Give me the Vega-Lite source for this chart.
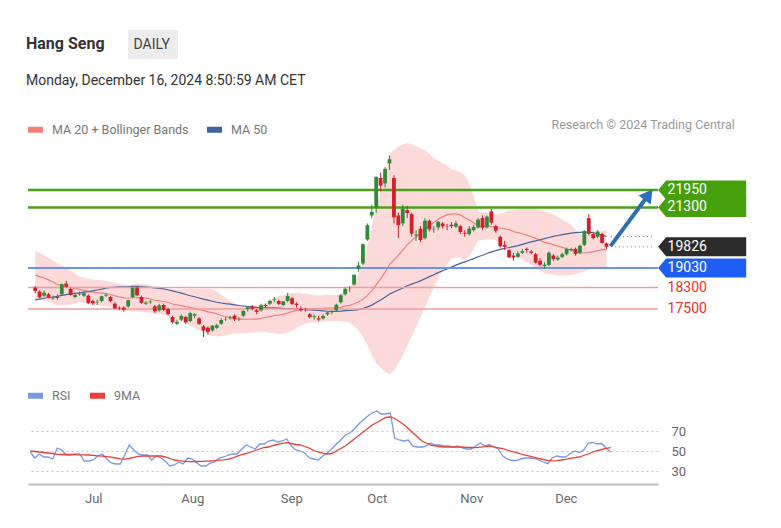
{
"$schema": "https://vega.github.io/schema/vega-lite/v6.json",
"padding": {"left": 25, "top": 30, "right": 5, "bottom": 5},
"background": "#ffffff",
"config": {"font": "Roboto", "view": {"stroke": null}},
"title": {"text": "Hang Seng", "subtitle": "Monday, December 16, 2024 8:50:59 AM CET", "anchor": "start", "frame": "group", "fontSize": 16, "fontWeight": "bold", "color": "#333333", "subtitleFontSize": 14, "subtitleColor": "#333333", "subtitlePadding": 22, "offset": 0, "dx": -2, "dy": 58},
"spacing": 9,
"resolve": {"scale": {"color": "independent", "x": "independent", "y": "independent"}, "legend": {"color": "independent"}},
"datasets": {
"k": [
{"i":0,"o":18300,"h":18350,"l":18100,"c":18176,"m20":18769,"bu":19683,"bl":17855,"m50":17842,"r":49,"rm":50},
{"i":1,"o":18150,"h":18200,"l":17900,"c":17937,"m20":18710,"bu":19590,"bl":17830,"m50":17868,"r":43,"rm":49.5},
{"i":2,"o":18000,"h":18200,"l":17950,"c":18112,"m20":18662,"bu":19512,"bl":17812,"m50":17902,"r":47,"rm":49},
{"i":3,"o":18050,"h":18100,"l":17900,"c":17942,"m20":18590,"bu":19414,"bl":17766,"m50":17930,"r":44,"rm":48.5},
{"i":4,"o":17900,"h":18000,"l":17850,"c":17936,"m20":18509,"bu":19309,"bl":17709,"m50":17950,"r":44,"rm":48},
{"i":5,"o":17950,"h":18050,"l":17850,"c":17915,"m20":18423,"bu":19207,"bl":17639,"m50":17974,"r":42,"rm":47.5},
{"i":6,"o":18050,"h":18450,"l":18000,"c":18430,"m20":18384,"bu":19124,"bl":17644,"m50":18008,"r":53,"rm":46.7},
{"i":7,"o":18450,"h":18550,"l":18300,"c":18335,"m20":18341,"bu":19031,"bl":17651,"m50":18040,"r":51,"rm":46.5},
{"i":8,"o":18250,"h":18300,"l":18000,"c":18028,"m20":18299,"bu":18929,"bl":17669,"m50":18064,"r":46,"rm":46.5},
{"i":9,"o":17950,"h":18100,"l":17900,"c":18027,"m20":18270,"bu":18830,"bl":17710,"m50":18082,"r":46,"rm":46.5},
{"i":10,"o":18050,"h":18150,"l":18000,"c":18072,"m20":18232,"bu":18712,"bl":17752,"m50":18102,"r":47,"rm":46.3},
{"i":11,"o":18000,"h":18150,"l":17950,"c":18089,"m20":18195,"bu":18665,"bl":17725,"m50":18129,"r":47,"rm":46.2},
{"i":12,"o":18000,"h":18050,"l":17700,"c":17716,"m20":18157,"bu":18627,"bl":17687,"m50":18151,"r":40,"rm":46.1},
{"i":13,"o":17800,"h":17850,"l":17650,"c":17718,"m20":18131,"bu":18601,"bl":17661,"m50":18181,"r":40,"rm":46},
{"i":14,"o":17750,"h":17850,"l":17650,"c":17769,"m20":18116,"bu":18586,"bl":17646,"m50":18211,"r":41,"rm":45.6},
{"i":15,"o":17800,"h":18000,"l":17750,"c":17978,"m20":18095,"bu":18575,"bl":17615,"m50":18243,"r":45,"rm":45.2},
{"i":16,"o":18000,"h":18100,"l":17950,"c":18028,"m20":18074,"bu":18554,"bl":17594,"m50":18279,"r":47,"rm":44.8},
{"i":17,"o":17950,"h":17980,"l":17750,"c":17799,"m20":18043,"bu":18523,"bl":17563,"m50":18305,"r":42,"rm":44.3},
{"i":18,"o":17700,"h":17750,"l":17500,"c":17524,"m20":17995,"bu":18485,"bl":17505,"m50":18319,"r":38,"rm":43.8},
{"i":19,"o":17550,"h":17600,"l":17450,"c":17523,"m20":17953,"bu":18443,"bl":17463,"m50":18325,"r":37,"rm":43},
{"i":20,"o":17550,"h":17600,"l":17400,"c":17471,"m20":17917,"bu":18407,"bl":17427,"m50":18329,"r":37,"rm":42.2},
{"i":21,"o":17600,"h":17850,"l":17550,"c":17832,"m20":17912,"bu":18402,"bl":17422,"m50":18332,"r":46,"rm":41.9},
{"i":22,"o":17950,"h":18320,"l":17900,"c":18293,"m20":17921,"bu":18431,"bl":17411,"m50":18343,"r":56,"rm":42.5},
{"i":23,"o":18300,"h":18350,"l":17980,"c":18015,"m20":17925,"bu":18441,"bl":17409,"m50":18348,"r":51,"rm":43.7},
{"i":24,"o":17950,"h":18000,"l":17700,"c":17727,"m20":17914,"bu":18434,"bl":17394,"m50":18339,"r":47,"rm":44.6},
{"i":25,"o":17700,"h":17800,"l":17650,"c":17739,"m20":17906,"bu":18432,"bl":17380,"m50":18324,"r":46,"rm":45},
{"i":26,"o":17750,"h":17850,"l":17700,"c":17778,"m20":17873,"bu":18383,"bl":17363,"m50":18308,"r":46,"rm":45},
{"i":27,"o":17600,"h":17650,"l":17350,"c":17417,"m20":17827,"bu":18327,"bl":17327,"m50":18287,"r":41,"rm":45},
{"i":28,"o":17450,"h":17700,"l":17400,"c":17635,"m20":17808,"bu":18304,"bl":17312,"m50":18273,"r":45,"rm":45},
{"i":29,"o":17650,"h":17700,"l":17420,"c":17469,"m20":17780,"bu":18270,"bl":17290,"m50":18252,"r":43,"rm":45},
{"i":30,"o":17500,"h":17550,"l":17250,"c":17311,"m20":17742,"bu":18232,"bl":17252,"m50":18219,"r":40,"rm":44},
{"i":31,"o":17200,"h":17250,"l":16950,"c":17005,"m20":17687,"bu":18227,"bl":17147,"m50":18177,"r":35,"rm":42.5},
{"i":32,"o":16950,"h":17100,"l":16900,"c":17021,"m20":17653,"bu":18233,"bl":17073,"m50":18136,"r":36,"rm":41},
{"i":33,"o":17100,"h":17300,"l":17050,"c":17238,"m20":17629,"bu":18229,"bl":17029,"m50":18093,"r":39,"rm":40.3},
{"i":34,"o":17200,"h":17250,"l":16950,"c":17002,"m20":17590,"bu":18240,"bl":16940,"m50":18042,"r":37,"rm":39.8},
{"i":35,"o":17050,"h":17400,"l":17000,"c":17344,"m20":17559,"bu":18247,"bl":16871,"m50":17996,"r":43,"rm":39.4},
{"i":36,"o":17250,"h":17350,"l":17150,"c":17304,"m20":17522,"bu":18242,"bl":16802,"m50":17958,"r":42,"rm":39.3},
{"i":37,"o":17150,"h":17200,"l":16900,"c":16945,"m20":17480,"bu":18250,"bl":16710,"m50":17913,"r":38,"rm":39.5},
{"i":38,"o":16850,"h":16900,"l":16450,"c":16698,"m20":17438,"bu":18258,"bl":16618,"m50":17869,"r":35,"rm":39.7},
{"i":39,"o":16800,"h":16850,"l":16550,"c":16647,"m20":17395,"bu":18255,"bl":16535,"m50":17830,"r":35,"rm":39.9},
{"i":40,"o":16700,"h":16900,"l":16650,"c":16877,"m20":17365,"bu":18237,"bl":16493,"m50":17791,"r":38,"rm":40},
{"i":41,"o":16800,"h":16950,"l":16750,"c":16891,"m20":17318,"bu":18168,"bl":16468,"m50":17752,"r":39,"rm":40.3},
{"i":42,"o":16950,"h":17150,"l":16900,"c":17090,"m20":17258,"bu":18038,"bl":16478,"m50":17725,"r":43,"rm":40.8},
{"i":43,"o":17100,"h":17200,"l":17050,"c":17111,"m20":17212,"bu":17912,"bl":16512,"m50":17702,"r":44,"rm":41.2},
{"i":44,"o":17150,"h":17250,"l":17100,"c":17174,"m20":17185,"bu":17815,"bl":16555,"m50":17684,"r":46,"rm":41.8},
{"i":45,"o":17250,"h":17300,"l":17050,"c":17113,"m20":17154,"bu":17720,"bl":16588,"m50":17658,"r":47,"rm":43},
{"i":46,"o":17100,"h":17200,"l":17050,"c":17110,"m20":17120,"bu":17660,"bl":16580,"m50":17632,"r":47,"rm":44.8},
{"i":47,"o":17250,"h":17450,"l":17200,"c":17430,"m20":17121,"bu":17641,"bl":16601,"m50":17612,"r":52,"rm":46.5},
{"i":48,"o":17500,"h":17600,"l":17400,"c":17569,"m20":17117,"bu":17627,"bl":16607,"m50":17594,"r":56,"rm":47.5},
{"i":49,"o":17600,"h":17650,"l":17450,"c":17511,"m20":17120,"bu":17620,"bl":16620,"m50":17576,"r":54,"rm":49},
{"i":50,"o":17450,"h":17500,"l":17300,"c":17391,"m20":17124,"bu":17616,"bl":16632,"m50":17561,"r":52,"rm":50.5},
{"i":51,"o":17450,"h":17700,"l":17400,"c":17641,"m20":17155,"bu":17665,"bl":16645,"m50":17555,"r":57,"rm":52},
{"i":52,"o":17650,"h":17700,"l":17550,"c":17612,"m20":17185,"bu":17735,"bl":16635,"m50":17545,"r":57,"rm":53.5},
{"i":53,"o":17700,"h":17850,"l":17650,"c":17798,"m20":17213,"bu":17813,"bl":16613,"m50":17542,"r":60,"rm":54},
{"i":54,"o":17850,"h":17950,"l":17750,"c":17874,"m20":17257,"bu":17917,"bl":16597,"m50":17541,"r":61,"rm":55.5},
{"i":55,"o":17800,"h":17850,"l":17650,"c":17692,"m20":17274,"bu":17982,"bl":16566,"m50":17536,"r":59,"rm":56.6},
{"i":56,"o":17650,"h":17800,"l":17600,"c":17786,"m20":17298,"bu":18018,"bl":16578,"m50":17523,"r":60,"rm":57.6},
{"i":57,"o":17800,"h":18100,"l":17750,"c":17989,"m20":17350,"bu":18090,"bl":16610,"m50":17516,"r":62,"rm":58.3},
{"i":58,"o":17900,"h":17950,"l":17650,"c":17691,"m20":17400,"bu":18100,"bl":16700,"m50":17510,"r":55,"rm":57.5},
{"i":59,"o":17700,"h":17750,"l":17550,"c":17651,"m20":17450,"bu":18110,"bl":16790,"m50":17502,"r":51,"rm":56.5},
{"i":60,"o":17500,"h":17600,"l":17400,"c":17457,"m20":17479,"bu":18077,"bl":16881,"m50":17490,"r":50,"rm":56},
{"i":61,"o":17450,"h":17550,"l":17400,"c":17444,"m20":17507,"bu":18067,"bl":16947,"m50":17477,"r":48,"rm":54.5},
{"i":62,"o":17300,"h":17350,"l":17150,"c":17196,"m20":17512,"bu":18042,"bl":16982,"m50":17467,"r":43,"rm":52.8},
{"i":63,"o":17200,"h":17300,"l":17100,"c":17234,"m20":17518,"bu":18028,"bl":17008,"m50":17457,"r":42,"rm":50.5},
{"i":64,"o":17150,"h":17250,"l":17050,"c":17108,"m20":17515,"bu":18015,"bl":17015,"m50":17444,"r":41,"rm":49},
{"i":65,"o":17150,"h":17300,"l":17100,"c":17240,"m20":17521,"bu":18017,"bl":17025,"m50":17429,"r":45,"rm":47.8},
{"i":66,"o":17300,"h":17400,"l":17250,"c":17369,"m20":17534,"bu":18030,"bl":17038,"m50":17416,"r":48,"rm":47},
{"i":67,"o":17380,"h":17450,"l":17300,"c":17422,"m20":17534,"bu":18024,"bl":17044,"m50":17408,"r":52,"rm":47.5},
{"i":68,"o":17450,"h":17700,"l":17400,"c":17660,"m20":17538,"bu":18028,"bl":17048,"m50":17411,"r":57,"rm":50},
{"i":69,"o":17750,"h":18050,"l":17700,"c":18013,"m20":17563,"bu":18083,"bl":17043,"m50":17421,"r":61,"rm":52.5},
{"i":70,"o":18050,"h":18300,"l":18000,"c":18258,"m20":17607,"bu":18195,"bl":17019,"m50":17436,"r":66,"rm":55},
{"i":71,"o":18250,"h":18350,"l":18150,"c":18247,"m20":17637,"bu":18287,"bl":16987,"m50":17445,"r":68,"rm":58.5},
{"i":72,"o":18420,"h":18800,"l":18380,"c":18778,"m20":17695,"bu":18535,"bl":16855,"m50":17454,"r":72,"rm":62},
{"i":73,"o":19000,"h":19260,"l":18900,"c":19129,"m20":17762,"bu":18822,"bl":16702,"m50":17477,"r":77,"rm":65.5},
{"i":74,"o":19200,"h":19950,"l":19150,"c":19924,"m20":17864,"bu":19260,"bl":16468,"m50":17521,"r":81,"rm":69},
{"i":75,"o":20100,"h":20700,"l":20050,"c":20632,"m20":18011,"bu":19871,"bl":16151,"m50":17579,"r":85,"rm":72.5},
{"i":76,"o":21000,"h":21400,"l":20900,"c":21134,"m20":18179,"bu":20579,"bl":15779,"m50":17646,"r":88,"rm":76},
{"i":77,"o":21300,"h":22450,"l":21100,"c":22443,"m20":18402,"bu":21344,"bl":15460,"m50":17746,"r":90,"rm":78.5},
{"i":78,"o":22400,"h":22600,"l":21900,"c":22113,"m20":18623,"bu":21943,"bl":15303,"m50":17836,"r":87,"rm":81},
{"i":79,"o":22200,"h":22800,"l":22050,"c":22737,"m20":18877,"bu":22617,"bl":15137,"m50":17941,"r":87,"rm":83.5},
{"i":80,"o":22950,"h":23240,"l":22700,"c":23100,"m20":19159,"bu":23269,"bl":15049,"m50":18057,"r":88,"rm":84},
{"i":81,"o":22400,"h":22500,"l":20700,"c":20927,"m20":19333,"bu":23453,"bl":15213,"m50":18135,"r":63,"rm":82.5},
{"i":82,"o":21000,"h":21100,"l":20150,"c":20637,"m20":19505,"bu":23565,"bl":15445,"m50":18208,"r":61,"rm":79.5},
{"i":83,"o":20700,"h":21400,"l":20600,"c":21252,"m20":19706,"bu":23648,"bl":15764,"m50":18288,"r":60,"rm":76.5},
{"i":84,"o":21200,"h":21350,"l":20900,"c":21092,"m20":19905,"bu":23705,"bl":16105,"m50":18370,"r":61,"rm":72.5},
{"i":85,"o":21050,"h":21100,"l":20200,"c":20319,"m20":20059,"bu":23659,"bl":16459,"m50":18429,"r":55,"rm":68.3},
{"i":86,"o":20250,"h":20450,"l":20050,"c":20287,"m20":20205,"bu":23583,"bl":16827,"m50":18489,"r":54,"rm":64.5},
{"i":87,"o":20500,"h":20600,"l":20000,"c":20079,"m20":20338,"bu":23498,"bl":17178,"m50":18552,"r":54,"rm":60},
{"i":88,"o":20150,"h":20900,"l":20100,"c":20804,"m20":20495,"bu":23435,"bl":17555,"m50":18634,"r":55,"rm":58},
{"i":89,"o":20800,"h":20850,"l":20400,"c":20478,"m20":20619,"bu":23299,"bl":17939,"m50":18710,"r":58,"rm":56},
{"i":90,"o":20480,"h":20600,"l":20350,"c":20499,"m20":20731,"bu":23149,"bl":18313,"m50":18783,"r":56,"rm":55.2},
{"i":91,"o":20550,"h":20800,"l":20450,"c":20760,"m20":20856,"bu":23056,"bl":18656,"m50":18860,"r":56,"rm":54.5},
{"i":92,"o":20700,"h":20750,"l":20500,"c":20589,"m20":20947,"bu":22947,"bl":18947,"m50":18930,"r":55,"rm":54},
{"i":93,"o":20600,"h":20680,"l":20450,"c":20590,"m20":21020,"bu":22860,"bl":19180,"m50":19000,"r":55,"rm":54},
{"i":94,"o":20650,"h":20750,"l":20520,"c":20599,"m20":21054,"bu":22726,"bl":19382,"m50":19068,"r":54,"rm":54},
{"i":95,"o":20580,"h":20800,"l":20520,"c":20701,"m20":21057,"bu":22677,"bl":19437,"m50":19140,"r":55,"rm":54},
{"i":96,"o":20600,"h":20650,"l":20300,"c":20380,"m20":21019,"bu":22619,"bl":19419,"m50":19205,"r":53,"rm":54},
{"i":97,"o":20350,"h":20450,"l":20200,"c":20317,"m20":20913,"bu":22501,"bl":19325,"m50":19263,"r":52,"rm":53.7},
{"i":98,"o":20300,"h":20600,"l":20250,"c":20506,"m20":20833,"bu":22193,"bl":19473,"m50":19322,"r":52,"rm":53.5},
{"i":99,"o":20450,"h":20650,"l":20400,"c":20568,"m20":20724,"bu":21724,"bl":19724,"m50":19383,"r":55,"rm":53.3},
{"i":100,"o":20550,"h":20900,"l":20500,"c":20844,"m20":20611,"bu":21163,"bl":20059,"m50":19452,"r":58,"rm":53.8},
{"i":101,"o":20900,"h":21000,"l":20450,"c":20538,"m20":20592,"bu":21112,"bl":20072,"m50":19510,"r":55,"rm":54.3},
{"i":102,"o":20550,"h":21000,"l":20500,"c":20953,"m20":20608,"bu":21118,"bl":20098,"m50":19577,"r":56.5,"rm":55},
{"i":103,"o":21150,"h":21250,"l":20650,"c":20728,"m20":20582,"bu":21058,"bl":20106,"m50":19635,"r":54,"rm":54.2},
{"i":104,"o":20600,"h":20650,"l":20350,"c":20427,"m20":20548,"bu":21028,"bl":20068,"m50":19686,"r":52,"rm":53.2},
{"i":105,"o":20200,"h":20250,"l":19800,"c":19846,"m20":20525,"bu":21065,"bl":19985,"m50":19730,"r":45,"rm":52.3},
{"i":106,"o":19900,"h":20050,"l":19700,"c":19823,"m20":20501,"bu":21121,"bl":19881,"m50":19770,"r":42,"rm":51},
{"i":107,"o":19700,"h":19750,"l":19400,"c":19435,"m20":20469,"bu":21199,"bl":19739,"m50":19799,"r":40.5,"rm":49.5},
{"i":108,"o":19500,"h":19600,"l":19300,"c":19426,"m20":20400,"bu":21220,"bl":19580,"m50":19834,"r":40.5,"rm":48.3},
{"i":109,"o":19450,"h":19650,"l":19400,"c":19577,"m20":20355,"bu":21255,"bl":19455,"m50":19872,"r":42,"rm":47},
{"i":110,"o":19600,"h":19750,"l":19550,"c":19663,"m20":20314,"bu":21274,"bl":19354,"m50":19917,"r":43,"rm":45.8},
{"i":111,"o":19750,"h":19800,"l":19600,"c":19705,"m20":20261,"bu":21271,"bl":19251,"m50":19962,"r":43,"rm":44.8},
{"i":112,"o":19650,"h":19700,"l":19550,"c":19601,"m20":20211,"bu":21271,"bl":19151,"m50":20010,"r":42.5,"rm":43.7},
{"i":113,"o":19550,"h":19600,"l":19200,"c":19230,"m20":20143,"bu":21253,"bl":19033,"m50":20050,"r":41,"rm":42.5},
{"i":114,"o":19300,"h":19400,"l":19100,"c":19151,"m20":20071,"bu":21211,"bl":18931,"m50":20091,"r":39,"rm":41.5},
{"i":115,"o":19100,"h":19250,"l":19000,"c":19159,"m20":19994,"bu":21152,"bl":18836,"m50":20129,"r":37.3,"rm":40.6},
{"i":116,"o":19150,"h":19650,"l":19100,"c":19603,"m20":19955,"bu":21105,"bl":18805,"m50":20174,"r":43,"rm":40.1},
{"i":117,"o":19500,"h":19550,"l":19300,"c":19366,"m20":19907,"bu":21037,"bl":18777,"m50":20213,"r":45,"rm":40.3},
{"i":118,"o":19350,"h":19500,"l":19300,"c":19424,"m20":19853,"bu":20943,"bl":18763,"m50":20248,"r":44,"rm":41},
{"i":119,"o":19450,"h":19600,"l":19400,"c":19550,"m20":19802,"bu":20852,"bl":18752,"m50":20279,"r":44,"rm":41.7},
{"i":120,"o":19550,"h":19800,"l":19500,"c":19746,"m20":19748,"bu":20754,"bl":18742,"m50":20308,"r":47.5,"rm":42.6},
{"i":121,"o":19700,"h":19800,"l":19650,"c":19742,"m20":19708,"bu":20648,"bl":18768,"m50":20338,"r":50,"rm":43.4},
{"i":122,"o":19750,"h":19800,"l":19500,"c":19560,"m20":19638,"bu":20478,"bl":18798,"m50":20354,"r":48.5,"rm":44},
{"i":123,"o":19600,"h":19900,"l":19550,"c":19866,"m20":19595,"bu":20335,"bl":18855,"m50":20369,"r":51,"rm":45.5},
{"i":124,"o":19900,"h":20450,"l":19850,"c":20414,"m20":19594,"bu":20274,"bl":18914,"m50":20378,"r":58,"rm":47},
{"i":125,"o":20900,"h":21050,"l":20250,"c":20311,"m20":19618,"bu":20254,"bl":18982,"m50":20372,"r":58.5,"rm":49},
{"i":126,"o":20300,"h":20400,"l":20100,"c":20155,"m20":19634,"bu":20274,"bl":18994,"m50":20352,"r":57,"rm":50.3},
{"i":127,"o":20200,"h":20450,"l":20150,"c":20398,"m20":19682,"bu":20362,"bl":19002,"m50":20312,"r":57.5,"rm":51.5},
{"i":128,"o":20300,"h":20350,"l":19950,"c":19971,"m20":19710,"bu":20430,"bl":18990,"m50":20269,"r":52.7,"rm":52.7},
{"i":129,"o":19950,"h":19980,"l":19750,"c":19826,"m20":19722,"bu":20464,"bl":18980,"m50":20210,"r":49,"rm":53.3}
],
"lv": [
{"v":21950,"k":"res"},{"v":21300,"k":"res"},{"v":19826,"k":"last"},{"v":19030,"k":"piv"},{"v":18300,"k":"sup"},{"v":17500,"k":"sup"},{"v":20210,"k":"ma50"}
],
"arrow": [{"i":129.9,"v":19850},{"i":138.5,"v":21770}]
},
"vconcat": [
{
"width": 630, "height": 257,
"layer": [
{"data": {"name": "k"}, "mark": {"type": "area", "color": "#fcdada", "opacity": 1},
 "encoding": {"x": {"field": "i", "type": "quantitative", "scale": {"domain": [-0.5, 139.5], "nice": false, "zero": false}, "axis": null},
  "y": {"field": "bl", "type": "quantitative", "scale": {"domain": [14995, 24605], "nice": false, "zero": false}, "axis": null}, "y2": {"field": "bu"}}},
{"data": {"name": "k"}, "transform": [{"fold": ["m20", "m50"], "as": ["s", "val"]}], "mark": {"type": "line", "strokeWidth": 1.2},
 "encoding": {"x": {"field": "i", "type": "quantitative"}, "y": {"field": "val", "type": "quantitative"},
  "color": {"field": "s", "type": "nominal", "scale": {"domain": ["m20", "m50"], "range": ["#f0807a", "#44629e"]},
   "legend": {"orient": "none", "legendX": -3, "legendY": 0, "direction": "horizontal", "title": null, "symbolType": "stroke", "symbolStrokeWidth": 6, "symbolSize": 225, "labelOffset": 6, "columnPadding": 6, "labelFontSize": 12.5, "labelColor": "#777777", "labelFont": "Roboto", "labelLimit": 400, "labelExpr": "datum.value == 'm20' ? 'MA 20 + Bollinger Bands' : 'MA 50'"}}}},
{"data": {"name": "lv"}, "transform": [{"filter": "datum.k == 'sup'"}], "mark": {"type": "rule", "color": "#f39c9c", "strokeWidth": 1.5}, "encoding": {"y": {"field": "v", "type": "quantitative"}}},
{"data": {"name": "lv"}, "transform": [{"filter": "datum.k == 'piv'"}], "mark": {"type": "rule", "color": "#6d91ee", "strokeWidth": 2}, "encoding": {"y": {"field": "v", "type": "quantitative"}}},
{"data": {"name": "lv"}, "transform": [{"filter": "datum.k == 'res'"}], "mark": {"type": "rule", "color": "#4aa11c", "strokeWidth": 2.5}, "encoding": {"y": {"field": "v", "type": "quantitative"}}},
{"data": {"name": "lv"}, "transform": [{"filter": "datum.k == 'last' || datum.k == 'ma50'"}], "mark": {"type": "rule", "color": "#888888", "strokeWidth": 1, "strokeDash": [1, 3]}, "encoding": {"y": {"field": "v", "type": "quantitative"}, "x": {"datum": 130}, "x2": {"datum": 139.5}}},
{"data": {"name": "k"}, "mark": {"type": "rule", "strokeWidth": 1},
 "encoding": {"x": {"field": "i", "type": "quantitative"}, "y": {"field": "l", "type": "quantitative"}, "y2": {"field": "h"},
  "color": {"condition": {"test": "datum.c >= datum.o", "value": "#2f8a3b"}, "value": "#d0202a"}}},
{"data": {"name": "k"}, "mark": {"type": "bar", "size": 3.8},
 "encoding": {"x": {"field": "i", "type": "quantitative"}, "y": {"field": "o", "type": "quantitative"}, "y2": {"field": "c"},
  "color": {"condition": {"test": "datum.c >= datum.o", "value": "#2f8a3b"}, "value": "#d0202a"}}},
{"data": {"name": "arrow"}, "mark": {"type": "line", "color": "#2f6db5", "strokeWidth": 4}, "encoding": {"x": {"field": "i", "type": "quantitative"}, "y": {"field": "v", "type": "quantitative"}}},
{"data": {"name": "arrow"}, "transform": [{"filter": "datum.i > 135"}], "mark": {"type": "point", "shape": "triangle-up", "angle": 37, "size": 230, "filled": true, "color": "#2f6db5", "opacity": 1}, "encoding": {"x": {"field": "i", "type": "quantitative"}, "y": {"field": "v", "type": "quantitative"}}},
{"data": {"name": "lv"}, "transform": [{"filter": "datum.k == 'res' || datum.k == 'last' || datum.k == 'piv'"}], "mark": {"type": "point", "shape": "M-1,0L-0.82,-0.216L1,-0.216L1,0.216L-0.82,0.216Z", "size": 7744, "filled": true, "opacity": 1, "strokeWidth": 0},
 "encoding": {"x": {"datum": 150.6}, "y": {"field": "v", "type": "quantitative"},
  "color": {"condition": [{"test": "datum.k == 'res'", "value": "#46a00c"}, {"test": "datum.k == 'piv'", "value": "#1f5ef5"}], "value": "#2b2b2b"}}},
{"data": {"name": "lv"}, "transform": [{"filter": "datum.k != 'ma50'"}], "mark": {"type": "text", "align": "left", "baseline": "middle", "fontSize": 14, "font": "Roboto"},
 "encoding": {"x": {"datum": 142.8}, "y": {"field": "v", "type": "quantitative"}, "text": {"field": "v", "type": "quantitative", "format": "d"},
  "color": {"condition": {"test": "datum.k == 'sup'", "value": "#e3312b"}, "value": "#ffffff"}}},
{"data": {"values": [{"t": "DAILY"}]}, "mark": {"type": "point", "opacity": 0, "size": 0},
 "encoding": {"shape": {"field": "t", "type": "nominal", "legend": {"orient": "none", "legendX": 100, "legendY": -89, "title": null, "symbolOpacity": 0, "symbolSize": 0, "labelOffset": -16, "labelFontSize": 14, "labelColor": "#444444", "labelFont": "Roboto", "fillColor": "#ececec", "padding": 7.5}}}},
{"data": {"values": [{"t": "Research © 2024 Trading Central"}]}, "mark": {"type": "point", "opacity": 0, "size": 0},
 "encoding": {"strokeDash": {"field": "t", "type": "nominal", "legend": {"orient": "none", "legendX": 511, "legendY": 0, "title": null, "symbolOpacity": 0, "symbolSize": 0, "symbolStrokeWidth": 0, "labelOffset": 0, "labelLimit": 400, "labelFontSize": 12.5, "labelColor": "#999999", "labelFont": "Roboto"}}}}
]
},
{
"width": 630, "height": 99,
"data": {"name": "k"},
"transform": [{"fold": ["r", "rm"], "as": ["s", "val"]}],
"mark": {"type": "line", "strokeWidth": 1.3},
"encoding": {
 "x": {"field": "i", "type": "quantitative", "scale": {"domain": [-0.5, 139.5], "nice": false, "zero": false},
  "axis": {"values": [14, 36, 58, 77, 98, 119], "labelExpr": "datum.value == 14 ? 'Jul' : datum.value == 36 ? 'Aug' : datum.value == 58 ? 'Sep' : datum.value == 77 ? 'Oct' : datum.value == 98 ? 'Nov' : 'Dec'", "title": null, "grid": false, "ticks": false, "domainColor": "#bbbbbb", "domainWidth": 2, "labelFontSize": 13, "labelColor": "#666666", "labelPadding": 8, "labelFont": "Roboto"}},
 "y": {"field": "val", "type": "quantitative", "scale": {"domain": [17, 116], "nice": false, "zero": false},
  "axis": {"orient": "right", "values": [30, 50, 70], "title": null, "domain": false, "ticks": false, "grid": true, "gridDash": [2, 3], "gridColor": "#c4c4c4", "labelPadding": 13, "labelFontSize": 13, "labelColor": "#666666", "labelFont": "Roboto"}},
 "color": {"field": "s", "type": "nominal", "scale": {"domain": ["r", "rm"], "range": ["#7b98e3", "#e8403a"]},
  "legend": {"orient": "none", "legendX": -3, "legendY": 0, "direction": "horizontal", "title": null, "symbolType": "stroke", "symbolStrokeWidth": 6, "symbolSize": 225, "labelOffset": 6, "columnPadding": 7, "labelFontSize": 12.5, "labelColor": "#777777", "labelFont": "Roboto", "labelExpr": "datum.value == 'r' ? 'RSI' : '9MA'"}}
}
}
]
}
